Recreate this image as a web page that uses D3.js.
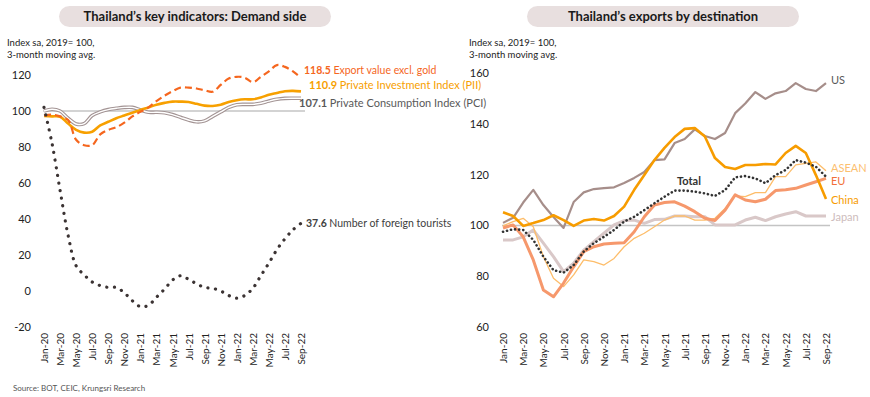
<!DOCTYPE html>
<html>
<head>
<meta charset="utf-8">
<script src="https://cdn.jsdelivr.net/npm/d3@7"></script>
<style>
  body { margin: 0; background: #fff; }
  svg { font-family: Lato, "Liberation Sans", sans-serif; }
</style>
</head>
<body>
<div id="container"></div>
<script>
// months on the x axis (Jan-20 .. Sep-22)
const months = ["Jan-20","Feb-20","Mar-20","Apr-20","May-20","Jun-20","Jul-20","Aug-20","Sep-20","Oct-20","Nov-20","Dec-20",
  "Jan-21","Feb-21","Mar-21","Apr-21","May-21","Jun-21","Jul-21","Aug-21","Sep-21","Oct-21","Nov-21","Dec-21",
  "Jan-22","Feb-22","Mar-22","Apr-22","May-22","Jun-22","Jul-22","Aug-22","Sep-22"];
const tickMonths = ["Jan-20","Mar-20","May-20","Jul-20","Sep-20","Nov-20","Jan-21","Mar-21","May-21","Jul-21","Sep-21",
  "Nov-21","Jan-22","Mar-22","May-22","Jul-22","Sep-22"];

// left chart: demand side
const leftTicks = [-20, 0, 20, 40, 60, 80, 100, 120];
const exportValue = [97.5,98,97,95,84,81,81,87,89.5,91,93.5,97,99.5,102,105.5,108.5,111,113,113,112.5,111.5,110.7,114.5,118,119,118.5,116,119,122,125.5,124.5,122,118.5];
const pii = [97.2,97,96.8,93,89.5,88,88.5,92,94,96,97.5,99,100.6,102,103.5,104.5,105.2,105.2,105,104,103,102.8,103.5,105,106,106.5,106.5,107.5,109,110,111,111.2,110.9];
const pci = [100,101,100,96,92.8,93,97.5,99.5,100.8,101.5,102,102,100.6,99.3,99.3,99,98,96.5,95,94,94.5,97,99.5,102,103.5,103.7,103.7,104.3,105.5,106.5,107,107.1,107.1];
const tourists = [102,82,56,31,14,9,5,3,2,2,-1,-5.4,-8.7,-8,-3.5,1,6,8.5,6.5,4,2,1.5,0,-2.5,-4,-2.5,1.5,8.5,15.5,23,29,34,37.6];

// right chart: exports by destination
const rightTicks = [60, 80, 100, 120, 140, 160];
const us = [101,103,109,114,108,103.3,99,109.2,113,114.3,114.7,115,116.7,118.7,121,125.7,126,132.4,134,137.8,135.2,134,136.4,144.2,148,152.5,149.8,152,152.9,156,153.7,152.9,156];
const china = [105.2,103.7,99.8,100.9,102.1,104,102.1,99.8,101.9,102.5,101.9,103.7,107.4,114,119.8,125.7,130.5,134.8,138,138.3,135,126.5,123,122.2,123.8,123.8,124.2,124,128.5,131.3,128.5,119.8,110.4];
const eu = [99,100.2,95.5,86.4,74.6,71.9,77.3,83.7,89.7,91.6,92.7,93,93.2,97.5,103.4,108,109,109.3,107.6,105.4,102.8,101.9,106,112,110,109.3,110.3,113.7,114,114.6,115.9,117.2,118.5];
const asean = [99.8,101.5,102.8,99.5,87.7,79.2,75.9,80.5,86.4,85.7,84.4,87,91.6,94.9,96.9,99.5,102.1,103.7,103.7,102.1,102.1,102.8,106.7,111.6,111.3,112.9,112.9,119.2,119.2,123.8,124.4,125,121.5];
const japan = [94.3,94.3,95.5,98.2,93,87.7,81.8,85.1,90.3,93.6,96.9,100.2,101.9,102.1,100.8,102.3,102.4,103.7,103.7,103.4,103.4,100.2,100.2,100.2,102.1,103.2,101.9,103.4,104.5,105.4,103.7,103.7,103.7];
const total = [97.5,98.5,98.2,94.3,87.7,82.4,81.4,84.4,89.7,93,95.5,98.2,101.5,103.4,106,108.7,111.3,113.7,113.7,113.3,112.6,111.6,113.9,118.9,119.4,118.5,116.6,119.8,121.8,125.7,124.7,123.1,119.2];

const width = 870;
const height = 397;
const font = "Lato, \"Liberation Sans\", sans-serif";

const svg = d3.select("#container").
append("svg").
attr("width", width).
attr("height", height);

// title pills
function titlePill(cx, text) {
  svg.append("rect").
  attr("x", cx - 136).attr("y", 6).
  attr("width", 272).attr("height", 21).
  attr("rx", 10.5).
  attr("fill", "#e8dfdf");
  svg.append("text").
  attr("x", cx).attr("y", 21).
  attr("text-anchor", "middle").
  attr("font-size", 13).
  attr("font-weight", "bold").
  attr("fill", "#1a1a1a").
  text(text);
}
titlePill(195, "Thailand\u2019s key indicators: Demand side");
titlePill(663, "Thailand\u2019s exports by destination");

// unit notes
function unitNote(x) {
  const t = svg.append("text").attr("font-size", 9.5).attr("fill", "#222");
  t.append("tspan").attr("x", x).attr("y", 46).text("Index sa, 2019= 100,");
  t.append("tspan").attr("x", x).attr("y", 58).text("3-month moving avg.");
}
unitNote(7);
unitNote(469);

// source
svg.append("text").
attr("x", 13).attr("y", 391).
attr("font-size", 8).
attr("fill", "#555").
text("Source: BOT, CEIC, Krungsri Research");

function drawAxes(x, y, yTicks, axisX) {
  // y axis labels
  const ya = svg.append("g").
  attr("transform", `translate(${axisX},0)`).
  call(d3.axisLeft(y).tickValues(yTicks).tickFormat(d => String(d)).tickSize(0).tickPadding(0));
  ya.select(".domain").remove();
  ya.selectAll("text").attr("font-size", 11).attr("fill", "#222").
  style("font-family", font);

  // x axis labels, rotated
  const xa = svg.append("g").
  attr("transform", `translate(0,${y.range()[0] + 4})`).
  call(d3.axisBottom(x).tickValues(tickMonths).tickSize(0).tickPadding(0));
  xa.select(".domain").remove();
  xa.selectAll("text").
  attr("font-size", 10).
  attr("fill", "#222").
  style("font-family", font).
  attr("text-anchor", "end").
  attr("dy", "0.35em").
  attr("transform", "rotate(-90)").
  attr("x", -2).attr("y", 0);

  // 100 reference line
  svg.append("line").
  attr("x1", x.range()[0] - 1).attr("x2", x.range()[1] + 4).
  attr("y1", y(100)).attr("y2", y(100)).
  attr("stroke", "#c4c4c4").attr("stroke-width", 1.5);
}

function drawLine(x, y, data, opts) {
  const line = d3.line().
  x((d, i) => x(months[i])).
  y(d => y(d)).
  curve(opts.curve || d3.curveLinear);
  svg.append("path").
  datum(data).
  attr("fill", "none").
  attr("stroke", opts.color).
  attr("stroke-width", opts.width).
  attr("stroke-dasharray", opts.dash || null).
  attr("stroke-linecap", opts.cap || "butt").
  attr("stroke-linejoin", "round").
  attr("d", line);
}

function endLabel(x, y, value, name, color, bold, size) {
  const t = svg.append("text").
  attr("x", x).attr("y", y).
  attr("font-size", size || 10.5).
  attr("fill", color);
  if (value !== null) t.append("tspan").attr("font-weight", "bold").text(value + " ");
  t.append("tspan").attr("font-weight", bold ? "bold" : "normal").text(name);
}

// ---------- left chart ----------
const xL = d3.scalePoint().domain(months).range([44, 301]);
const yL = d3.scaleLinear().domain([-20, 120]).range([327, 75]);
drawAxes(xL, yL, leftTicks, 31);

const smooth = d3.curveCatmullRom.alpha(0.5);
// PCI drawn as a double (outlined) line
drawLine(xL, yL, pci, { color: "#a39494", width: 3.6, curve: smooth });
drawLine(xL, yL, pci, { color: "#ffffff", width: 1.4, curve: smooth });
drawLine(xL, yL, pii, { color: "#f7a000", width: 2.6, curve: smooth });
drawLine(xL, yL, exportValue, { color: "#f5661e", width: 2.2, dash: "7,4", curve: smooth });
drawLine(xL, yL, tourists, { color: "#3b3333", width: 3.2, dash: "0.1,7.6", cap: "round", curve: smooth });

endLabel(304, 74, "118.5", "Export value excl. gold", "#f5661e", false, 10.5);
endLabel(309, 89, "110.9", "Private Investment Index (PII)", "#f7a000", false, 11);
endLabel(299, 107, "107.1", "Private Consumption Index (PCI)", "#595959", false, 11);
endLabel(306, 227, "37.6", "Number of foreign tourists", "#404040", false, 10.5);

// ---------- right chart ----------
const xR = d3.scalePoint().domain(months).range([503, 826]);
const yR = d3.scaleLinear().domain([60, 160]).range([327, 73]);
drawAxes(xR, yR, rightTicks, 489);

drawLine(xR, yR, japan, { color: "#d9c8c8", width: 3 });
drawLine(xR, yR, asean, { color: "#fdbd6a", width: 1.3 });
drawLine(xR, yR, eu, { color: "#f6986c", width: 3 });
drawLine(xR, yR, us, { color: "#a68e8a", width: 2.2 });
drawLine(xR, yR, china, { color: "#f79c00", width: 2.6 });
drawLine(xR, yR, total, { color: "#333333", width: 2.6, dash: "0.1,4", cap: "round" });

endLabel(831, 84, null, "US", "#595959", false, 11);
endLabel(831, 172, null, "ASEAN", "#fcc070", false, 11);
endLabel(831, 185, null, "EU", "#f2703a", false, 11);
endLabel(831, 204, null, "China", "#f79c00", false, 11);
endLabel(831, 221, null, "Japan", "#cdbcbc", false, 11);
endLabel(677, 185, null, "Total", "#333333", true, 11);
</script>
</body>
</html>
